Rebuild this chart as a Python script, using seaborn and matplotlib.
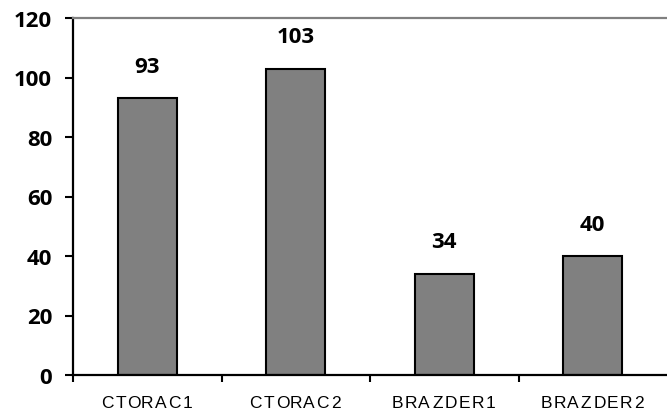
import matplotlib
matplotlib.use("Agg")
import matplotlib.pyplot as plt
import seaborn as sns
import pandas as pd

categories = ["CTORAC1", "CTORAC2", "BRAZDER1", "BRAZDER2"]
values = [93, 103, 34, 40]
yticks = [0, 20, 40, 60, 80, 100, 120]

sns.set_style("white")
plt.rcParams["font.family"] = ["Open Sans", "DejaVu Sans"]
plt.rcParams["text.color"] = "black"
plt.rcParams["xtick.color"] = "black"
plt.rcParams["ytick.color"] = "black"

df = pd.DataFrame({"cat": categories, "val": values})

fig = plt.figure(figsize=(6.67, 4.14), dpi=100)
ax = fig.add_axes([73 / 667, 38 / 414, 1 - 73 / 667, (376 - 19) / 414])

sns.barplot(data=df, x="cat", y="val", color="#808080", saturation=1,
            width=0.4, edgecolor="black", linewidth=1.5, ax=ax)

ax.set_ylim(0, 120)
ax.set_xlim(-0.5, len(categories) - 0.5)
ax.set_yticks(yticks)
ax.set_yticklabels([str(t) for t in yticks], fontsize=16, fontweight="bold")

# category ticks sit on the boundaries between groups
ax.set_xticks([i - 0.5 for i in range(len(categories))])
ax.set_xticklabels([])
ax.tick_params(axis="x", direction="out", length=5, width=1.5, bottom=True)
ax.tick_params(axis="y", direction="out", length=6, width=1.5,
               left=True, pad=9)

# letter-spaced category names under each group
pitch = 9.6  # points between letter centres
for i, name in enumerate(categories):
    n = len(name)
    for k, ch in enumerate(name):
        ax.annotate(ch, (i, 0), xycoords=("data", "axes fraction"),
                    xytext=((k - (n - 1) / 2) * pitch, -20),
                    textcoords="offset points", ha="center", va="center",
                    fontsize=12.5, family=["Liberation Sans", "DejaVu Sans"],
                    annotation_clip=False)

for s in ["left", "bottom"]:
    ax.spines[s].set_color("black")
    ax.spines[s].set_linewidth(1.6)
ax.spines["top"].set_color("#808080")
ax.spines["top"].set_linewidth(1.6)
ax.spines["right"].set_visible(False)

ax.set_xlabel("")
ax.set_ylabel("")

for i, v in enumerate(values):
    ax.annotate(str(v), (i, v), xytext=(0, 23), textcoords="offset points",
                ha="center", va="center", fontsize=16, fontweight="bold")

fig.savefig("out.png", dpi=100)
